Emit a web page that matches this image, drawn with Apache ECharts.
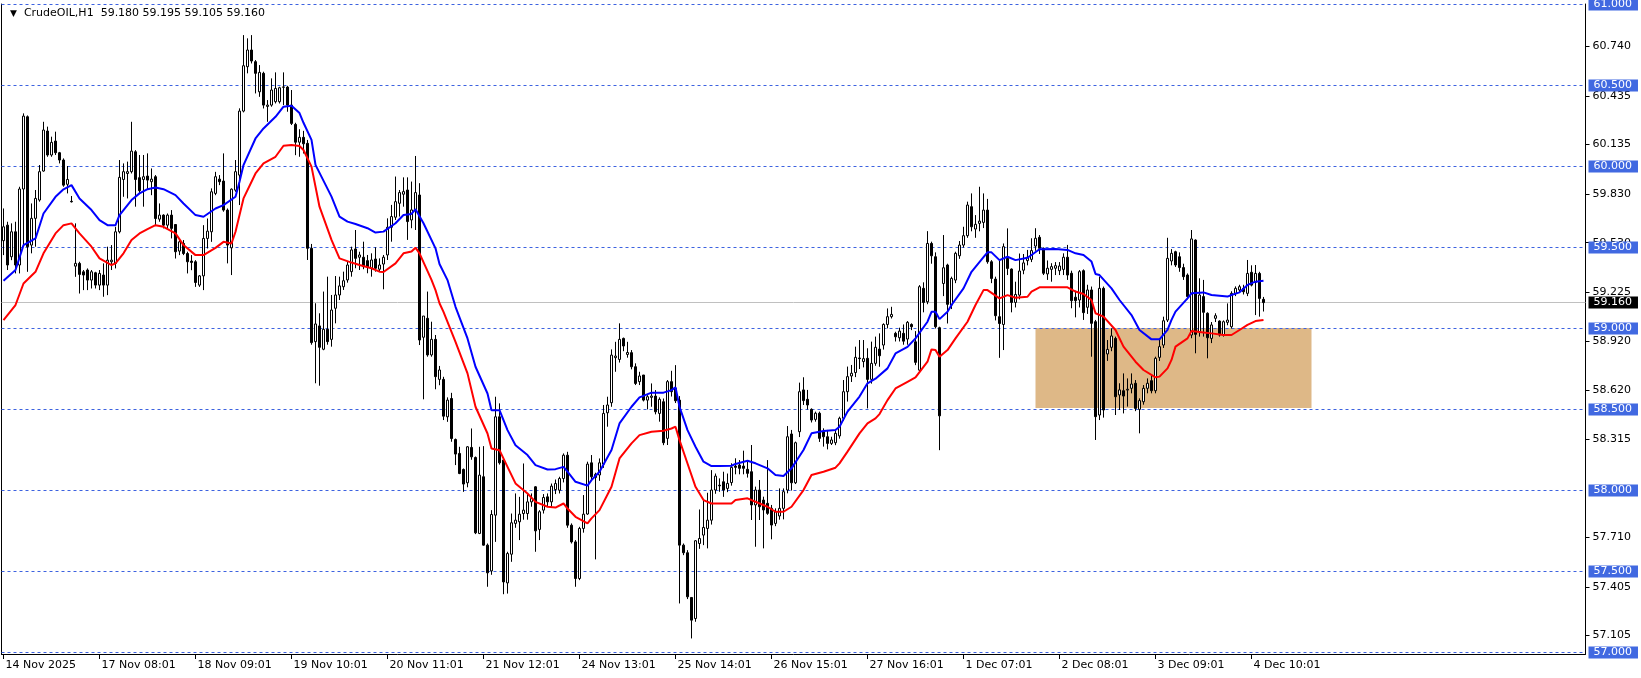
<!DOCTYPE html>
<html><head><meta charset="utf-8">
<script src="https://cdn.jsdelivr.net/npm/echarts@6/dist/echarts.min.js"></script>
<style>html,body{margin:0;padding:0;background:#fff}#c{width:1641px;height:678px}</style>
</head><body><div id="c"></div>
<script>
const symbolName = 'CrudeOIL,H1';
const lastOHLC = ['59.180', '59.195', '59.105', '59.160'];
// [open, high, low, close] per H1 bar
const candles = [
[59.542,59.741,59.453,59.628],[59.638,59.659,59.361,59.392],[59.443,59.649,59.422,59.597],[59.597,59.659,59.340,59.392],
[59.392,59.875,59.340,59.861],[59.861,60.328,59.505,60.311],[60.307,60.315,59.350,59.505],[59.515,59.772,59.464,59.680],
[59.680,59.855,59.505,59.803],[59.793,60.009,59.783,59.968],[59.972,60.276,59.968,60.225],[60.219,60.246,60.060,60.071],
[60.071,60.184,60.060,60.149],[60.157,60.215,60.071,60.085],[60.085,60.090,60.019,60.040],[60.040,60.050,59.875,59.885],
[59.890,60.003,59.834,59.920],[59.785,59.818,59.778,59.782],[59.385,59.649,59.319,59.402],[59.402,59.412,59.216,59.334],
[59.350,59.361,59.237,59.330],[59.361,59.371,59.237,59.299],[59.299,59.361,59.247,59.350],[59.344,59.350,59.247,59.268],
[59.268,59.361,59.237,59.340],[59.330,59.402,59.196,59.268],[59.268,59.505,59.206,59.422],[59.412,59.515,59.361,59.422],
[59.402,59.628,59.371,59.597],[59.597,60.040,59.587,59.933],[59.920,60.019,59.813,59.968],[59.957,60.030,59.803,59.968],
[59.968,60.276,59.957,60.095],[60.091,60.101,59.752,59.920],[59.931,60.071,59.834,59.851],[59.920,60.071,59.752,59.937],
[59.941,60.081,59.855,59.916],[59.906,59.988,59.823,59.922],[59.937,59.947,59.638,59.679],[59.675,59.772,59.659,59.700],
[59.700,59.705,59.618,59.638],[59.638,59.710,59.618,59.700],[59.700,59.731,59.556,59.618],[59.642,59.642,59.432,59.474],
[59.478,59.556,59.453,59.535],[59.525,59.546,59.453,59.463],[59.463,59.474,59.340,59.412],[59.416,59.453,59.360,59.408],
[59.412,59.422,59.257,59.284],[59.268,59.330,59.257,59.325],[59.325,59.638,59.237,59.556],[59.556,59.679,59.494,59.601],
[59.597,59.865,59.535,59.844],[59.834,59.967,59.823,59.937],[59.922,59.947,59.885,59.906],[59.910,60.081,59.721,59.731],
[59.731,59.741,59.402,59.515],[59.498,59.865,59.330,59.860],[59.854,60.040,59.844,59.968],[59.947,60.359,59.762,60.342],
[60.342,60.811,60.334,60.622],[60.616,60.791,60.575,60.719],[60.719,60.811,60.636,60.651],[60.647,60.657,60.451,60.575],
[60.461,60.626,60.430,60.581],[60.575,60.585,60.358,60.379],[60.371,60.410,60.276,60.379],[60.379,60.544,60.369,60.472],
[60.400,60.581,60.389,60.482],[60.400,60.492,60.389,60.486],[60.489,60.581,60.379,60.491],[60.490,60.498,60.338,60.379],
[60.379,60.472,60.256,60.266],[60.260,60.270,60.070,60.150],[60.150,60.230,60.060,60.180],[60.180,60.220,60.080,60.140],
[60.143,60.164,59.423,59.495],[59.495,59.522,58.900,58.913],[58.919,59.156,58.662,59.028],[59.016,59.094,58.647,58.884],
[58.872,59.228,58.866,58.995],[58.995,59.320,58.900,58.919],[58.933,59.207,58.888,59.114],[59.125,59.324,59.032,59.207],
[59.207,59.320,59.176,59.263],[59.258,59.351,59.238,59.295],[59.300,59.413,59.283,59.392],[59.351,59.505,59.320,59.485],
[59.491,59.608,59.372,59.433],[59.440,59.474,59.361,59.454],[59.440,59.536,59.366,59.382],[59.419,59.454,59.341,59.378],
[59.372,59.464,59.320,59.423],[59.429,59.501,59.351,59.372],[59.366,59.433,59.351,59.392],[59.398,59.454,59.242,59.440],
[59.454,59.680,59.423,59.625],[59.625,59.763,59.536,59.691],[59.687,59.938,59.670,59.783],[59.773,59.855,59.691,59.839],
[59.829,59.933,59.752,59.845],[59.855,59.933,59.547,59.660],[59.670,59.907,59.619,59.732],[59.732,60.065,59.608,59.839],
[59.824,59.897,58.898,58.929],[58.946,59.077,58.563,59.077],[59.063,59.228,58.826,58.837],[58.837,59.042,58.826,58.933],
[58.933,58.960,58.625,58.703],[58.686,58.769,58.650,58.744],[58.686,58.702,58.435,58.459],[58.455,58.575,58.424,58.558],
[58.568,58.603,58.301,58.321],[58.315,58.321,58.157,58.225],[58.229,58.270,58.101,58.105],[58.130,58.136,57.992,58.040],
[58.048,58.274,58.020,58.270],[58.266,58.383,58.190,58.208],[58.204,58.210,57.731,57.739],[57.735,58.270,57.731,58.095],
[58.085,58.274,57.660,57.663],[57.663,57.673,57.406,57.492],[57.504,57.879,57.480,57.852],[57.848,58.579,57.683,58.455],
[58.455,58.538,58.160,58.171],[58.188,58.198,57.360,57.436],[57.430,57.622,57.364,57.611],[57.607,57.858,57.560,57.801],
[57.797,57.982,57.770,57.817],[57.807,57.961,57.694,57.854],[57.858,58.167,57.820,57.879],[57.858,57.982,57.820,57.930],
[57.930,57.982,57.900,57.951],[58.023,58.027,57.622,57.751],[57.760,57.879,57.694,57.869],[57.879,57.978,57.858,57.957],
[57.961,57.982,57.900,57.930],[57.930,58.043,57.900,58.027],[58.006,58.068,57.978,58.043],[58.002,58.085,57.982,58.074],
[58.074,58.229,58.050,58.218],[58.218,58.239,57.770,57.786],[57.786,57.797,57.673,57.683],[57.683,57.694,57.406,57.457],
[57.457,57.776,57.447,57.766],[57.766,57.972,57.740,57.854],[57.855,58.178,57.850,58.163],[58.171,58.219,58.060,58.085],
[58.080,58.110,57.575,58.100],[58.096,58.198,58.060,58.171],[58.163,58.528,58.140,58.476],[58.480,58.579,58.394,58.528],
[58.542,58.871,58.517,58.836],[58.820,58.918,58.733,58.830],[58.809,59.032,58.790,58.933],[58.939,58.944,58.860,58.892],
[58.840,58.918,58.820,58.852],[58.851,58.867,58.748,58.764],[58.764,58.785,58.651,58.661],[58.672,58.733,58.651,58.707],
[58.713,58.713,58.550,58.558],[58.558,58.589,58.501,58.579],[58.575,58.661,58.517,58.583],[58.583,58.620,58.470,58.486],
[58.476,58.575,58.425,58.563],[58.548,58.568,58.280,58.295],[58.322,58.682,58.281,58.672],[58.672,58.739,58.580,58.610],
[58.630,58.774,58.540,58.554],[58.558,58.583,57.303,57.663],[57.663,57.673,57.601,57.616],[57.616,57.632,57.330,57.344],
[57.340,57.340,57.087,57.200],[57.210,57.694,57.190,57.690],[57.673,57.883,57.640,57.704],[57.725,57.941,57.663,57.772],
[57.766,57.986,57.643,57.817],[57.817,58.126,57.790,58.003],[58.003,58.105,57.980,58.089],[58.033,58.075,57.992,58.029],
[58.054,58.116,57.961,58.003],[58.013,58.105,57.990,58.044],[58.049,58.168,58.030,58.143],[58.151,58.199,58.100,58.143],
[58.157,58.188,58.100,58.137],[58.151,58.246,58.100,58.137],[58.131,58.188,58.080,58.106],[58.116,58.281,57.818,57.911],
[57.911,58.024,57.653,58.003],[58.003,58.065,57.818,57.900],[57.941,57.962,57.643,57.880],[57.921,58.188,57.850,57.859],
[57.890,57.911,57.699,57.787],[57.797,57.890,57.780,57.869],[57.843,58.013,57.820,57.890],[57.890,58.013,57.822,57.993],
[58.003,58.398,57.983,58.332],[58.349,58.374,58.000,58.048],[58.048,58.302,58.040,58.295],[58.363,58.666,58.330,58.610],
[58.621,58.699,58.528,58.555],[58.563,58.621,58.500,58.528],[58.501,58.507,58.420,58.435],[58.439,58.487,58.425,58.477],
[58.477,58.487,58.300,58.322],[58.363,58.384,58.271,58.332],[58.332,58.374,58.254,58.291],[58.291,58.332,58.281,58.312],
[58.295,58.374,58.280,58.353],[58.337,58.456,58.320,58.446],[58.446,58.682,58.430,58.610],[58.610,58.765,58.549,58.703],
[58.707,58.775,58.670,58.724],[58.728,58.888,58.700,58.822],[58.818,58.929,58.750,58.814],[58.796,58.929,58.760,58.814],
[58.816,58.878,58.507,58.686],[58.686,58.919,58.660,58.785],[58.785,58.950,58.770,58.884],[58.873,58.970,58.764,58.832],
[58.898,59.032,58.870,59.025],[59.025,59.124,59.001,59.073],[59.073,59.134,59.062,59.087],[58.970,58.980,58.920,58.949],
[58.943,59.005,58.920,58.984],[58.970,59.025,58.900,58.922],[58.935,59.046,58.900,59.038],[59.025,59.032,58.990,59.011],
[58.918,58.984,58.774,58.791],[58.743,59.268,58.730,59.258],[59.248,59.285,59.100,59.161],[59.165,59.601,59.150,59.525],
[59.525,59.536,59.400,59.449],[59.443,59.470,59.000,59.011],[59.005,59.011,58.249,58.461],[59.278,59.577,59.200,59.375],
[59.392,59.400,59.031,59.149],[59.145,59.320,59.120,59.309],[59.299,59.474,59.280,59.464],[59.449,59.540,59.430,59.515],
[59.515,59.628,59.500,59.573],[59.573,59.783,59.560,59.762],[59.752,59.834,59.600,59.628],[59.614,59.700,59.560,59.643],
[59.649,59.875,59.600,59.663],[59.655,59.834,59.620,59.731],[59.731,59.800,59.400,59.412],[59.412,59.422,59.280,59.309],
[59.305,59.320,59.050,59.079],[59.073,59.420,58.819,59.031],[59.025,59.525,58.867,59.505],[59.433,59.618,59.330,59.371],
[59.367,59.371,59.100,59.161],[59.161,59.289,59.130,59.210],[59.206,59.463,59.180,59.355],[59.360,59.460,59.335,59.405],
[59.419,59.485,59.390,59.440],[59.427,59.557,59.410,59.481],[59.509,59.619,59.480,59.557],[59.563,59.577,59.460,59.495],
[59.495,59.500,59.330,59.341],[59.337,59.420,59.300,59.372],[59.365,59.403,59.289,59.382],[59.372,59.410,59.330,59.388],
[59.357,59.410,59.330,59.386],[59.365,59.464,59.330,59.440],[59.440,59.516,59.300,59.330],[59.341,59.357,59.125,59.172],
[59.193,59.234,59.069,59.172],[59.176,59.361,59.130,59.351],[59.357,59.365,59.053,59.098],[59.131,59.270,59.090,59.238],
[59.238,59.259,58.826,59.032],[59.042,59.053,58.312,58.456],[58.466,59.320,58.435,59.248],[59.248,59.259,58.450,58.497],
[58.843,58.929,58.800,58.871],[58.884,59.001,58.860,58.954],[58.939,58.950,58.466,58.579],[58.590,58.662,58.497,58.621],
[58.616,58.723,58.476,58.583],[58.620,58.692,58.518,58.625],[58.631,58.723,58.600,58.657],[58.662,58.682,58.490,58.507],
[58.501,58.569,58.353,58.555],[58.548,58.651,58.530,58.631],[58.631,58.692,58.600,58.662],[58.678,58.713,58.600,58.616],
[58.616,58.826,58.600,58.816],[58.822,58.939,58.800,58.888],[58.898,59.073,58.880,59.048],[59.052,59.560,59.040,59.433],
[59.417,59.490,59.390,59.464],[59.474,59.480,59.380,59.392],[59.443,59.470,59.350,59.376],[59.376,59.400,59.300,59.320],
[59.330,59.340,59.180,59.197],[58.960,59.608,58.940,59.553],[59.546,59.550,58.847,58.964],[58.980,59.310,58.950,59.207],
[59.197,59.300,58.950,59.100],[59.094,59.100,58.816,58.943],[58.939,59.040,58.910,59.022],[59.063,59.094,59.040,59.079],
[59.046,59.050,58.950,58.960],[58.960,59.050,58.950,59.042],[59.038,59.155,59.020,59.052],[59.011,59.230,59.000,59.217],
[59.217,59.260,59.200,59.248],[59.238,59.270,59.220,59.258],[59.248,59.270,59.210,59.227],[59.217,59.423,59.200,59.340],
[59.347,59.390,59.260,59.268],[59.285,59.392,59.083,59.340],[59.340,59.350,59.073,59.186],[59.180,59.195,59.105,59.160]
];
// blue average line, [bar index, value]
const maBlue = [
[0,59.295],[3,59.361],[5,59.515],[8,59.556],[10,59.71],[13,59.813],[15,59.859],[17,59.885],[19,59.803],[22,59.731],
[24,59.669],[26,59.638],[28,59.638],[29,59.70],[32,59.793],[34,59.834],[36,59.86],[38,59.871],[40,59.86],[43,59.823],
[45,59.772],[48,59.70],[50,59.69],[53,59.741],[55,59.762],[58,59.813],[59,59.906],[60,60.009],[63,60.173],[65,60.235],
[68,60.307],[70,60.369],[72,60.375],[74,60.33],[75,60.27],[77,60.164],[78,60.01],[82,59.814],[84,59.691],[86,59.66],
[88,59.645],[91,59.619],[93,59.592],[95,59.598],[98,59.65],[100,59.701],[102,59.707],[103,59.736],[105,59.65],[108,59.495],
[109,59.398],[111,59.299],[113,59.134],[116,58.939],[118,58.764],[121,58.599],[122,58.496],[124,58.496],[126,58.373],[128,58.28],
[131,58.219],[133,58.157],[136,58.13],[138,58.132],[140,58.146],[141,58.116],[143,58.054],[146,58.03],[147,58.064],[149,58.116],
[152,58.25],[154,58.414],[157,58.517],[159,58.575],[162,58.604],[165,58.604],[167,58.62],[168,58.637],[169,58.517],[171,58.373],
[173,58.27],[175,58.178],[177,58.151],[179,58.151],[182,58.153],[183,58.164],[186,58.184],[188,58.168],[191,58.137],[193,58.096],
[195,58.09],[197,58.137],[200,58.25],[202,58.353],[205,58.367],[208,58.374],[209,58.394],[211,58.487],[214,58.58],[216,58.662],
[218,58.69],[221,58.754],[223,58.846],[226,58.887],[228,58.939],[231,59.042],[232,59.103],[233,59.103],[234,59.058],[236,59.103],
[237,59.145],[240,59.248],[242,59.35],[245,59.44],[246,59.47],[247,59.47],[249,59.422],[251,59.443],[253,59.422],[256,59.437],
[257,59.454],[259,59.489],[263,59.491],[266,59.485],[268,59.464],[270,59.454],[272,59.413],[273,59.337],[274,59.33],[277,59.248],
[279,59.176],[282,59.083],[284,58.991],[287,58.933],[289,58.933],[291,58.991],[292,59.053],[293,59.104],[296,59.186],[297,59.217],
[300,59.223],[302,59.207],[306,59.197],[307,59.207],[309,59.223],[311,59.269],[313,59.289],[315,59.295]
];
// red average line, [bar index, value]
const maRed = [
[0,59.052],[3,59.145],[5,59.278],[8,59.35],[10,59.464],[13,59.587],[15,59.638],[17,59.649],[19,59.587],[22,59.505],
[24,59.433],[27,59.392],[28,59.402],[30,59.464],[32,59.546],[34,59.587],[36,59.613],[38,59.638],[40,59.628],[43,59.587],
[45,59.515],[48,59.453],[50,59.453],[53,59.498],[55,59.535],[57,59.525],[58,59.597],[60,59.803],[63,59.957],[65,60.019],
[68,60.06],[70,60.128],[72,60.133],[74,60.127],[75,60.102],[77,59.999],[79,59.752],[82,59.547],[84,59.433],[87,59.407],
[89,59.392],[92,59.372],[94,59.351],[95,59.349],[98,59.402],[100,59.464],[102,59.475],[103,59.499],[104,59.464],[107,59.30],
[108,59.237],[109,59.156],[110,59.103],[113,58.918],[116,58.723],[118,58.517],[121,58.352],[122,58.26],[124,58.249],[126,58.146],
[128,58.044],[131,57.982],[133,57.93],[136,57.90],[138,57.895],[140,57.92],[141,57.889],[143,57.838],[146,57.797],[147,57.828],
[149,57.879],[152,58.023],[154,58.198],[157,58.291],[159,58.342],[162,58.363],[165,58.369],[167,58.383],[168,58.394],[169,58.311],
[171,58.167],[173,58.023],[175,57.941],[177,57.92],[179,57.92],[182,57.92],[183,57.941],[186,57.952],[188,57.931],[191,57.90],
[193,57.869],[195,57.869],[197,57.90],[200,58.003],[202,58.096],[205,58.116],[208,58.141],[209,58.168],[211,58.24],[214,58.353],
[216,58.415],[218,58.445],[219,58.472],[221,58.558],[223,58.63],[226,58.671],[228,58.698],[231,58.795],[232,58.871],[233,58.867],
[234,58.826],[236,58.867],[238,58.939],[241,59.042],[243,59.145],[245,59.237],[246,59.237],[249,59.186],[251,59.206],[253,59.19],
[256,59.196],[257,59.228],[259,59.254],[266,59.254],[268,59.228],[270,59.213],[272,59.176],[273,59.094],[275,59.073],[278,58.991],
[280,58.888],[283,58.795],[285,58.744],[288,58.699],[289,58.703],[291,58.754],[292,58.806],[293,58.888],[296,58.939],[297,58.985],
[300,58.976],[302,58.97],[305,58.96],[307,58.96],[309,58.991],[311,59.022],[313,59.046],[315,59.053]
];
const slotCount = 396;
const xLabelIdx = [0,24,48,72,96,120,144,168,192,216,240,264,288,312];
const xLabelText = ['14 Nov 2025','17 Nov 08:01','18 Nov 09:01','19 Nov 10:01','20 Nov 11:01','21 Nov 12:01','24 Nov 13:01',
  '25 Nov 14:01','26 Nov 15:01','27 Nov 16:01','1 Dec 07:01','2 Dec 08:01','3 Dec 09:01','4 Dec 10:01'];
const yTickLabels = [60.740,60.435,60.135,59.830,59.530,59.225,58.920,58.620,58.315,57.710,57.405,57.105];
const levelLines = [61.0,60.5,60.0,59.5,59.0,58.5,58.0,57.5,57.0];
const currentPrice = 59.160;
const zoneBars = [258, 327];
const zonePrices = [59.003, 58.51];

const FONT = 'DejaVu Sans';
const categories = Array.from({length: slotCount}, (_, i) => String(i));
const labelMap = {};
xLabelIdx.forEach((k, j) => { labelMap[k] = xLabelText[j]; });
const showIdx = (i) => labelMap[i] !== undefined;

const chart = echarts.init(document.getElementById('c'), null, {renderer: 'canvas'});
const levelData = levelLines.map(v => ({yAxis: v}));
levelData.push({
  yAxis: currentPrice,
  lineStyle: {type: 'solid', color: '#c0c0c0', width: 1},
  label: {backgroundColor: '#000000', color: '#ffffff'}
});

chart.setOption({
  animation: false,
  backgroundColor: '#ffffff',
  title: {
    text: '{t|▼}  ' + symbolName + '  ' + lastOHLC.join(' '),
    left: 5, top: 3,
    textStyle: {fontFamily: FONT, fontSize: 11, fontWeight: 'normal', color: '#000',
      rich: {t: {fontSize: 9, fontFamily: FONT, color: '#000'}}}
  },
  grid: {left: 1.5, right: 55.5, top: 4, bottom: 24, containLabel: false},
  xAxis: {
    type: 'category', data: categories, boundaryGap: true,
    axisLine: {show: true, lineStyle: {color: '#000', width: 1}},
    axisTick: {show: true, interval: showIdx, alignWithLabel: true, length: 5, lineStyle: {color: '#000'}},
    axisLabel: {interval: showIdx, formatter: (v, i) => labelMap[i] || '', align: 'left', margin: 6,
      color: '#000', fontSize: 11, fontFamily: FONT, padding: [0, 0, 0, 2]},
    splitLine: {show: false}
  },
  yAxis: [{
    type: 'value', position: 'right', min: 56.991, max: 61.003, scale: true,
    axisLine: {show: true, lineStyle: {color: '#000', width: 1}},
    axisTick: {show: true, customValues: yTickLabels, length: 4, lineStyle: {color: '#000'}},
    axisLabel: {customValues: yTickLabels, formatter: v => v.toFixed(3), color: '#000',
      fontSize: 11, fontFamily: FONT, margin: 7},
    splitLine: {show: false}
  }, {
    type: 'value', position: 'left', min: 56.991, max: 61.003,
    axisLine: {show: true, onZero: false, lineStyle: {color: '#000', width: 1}},
    axisTick: {show: false}, axisLabel: {show: false}, splitLine: {show: false}
  }],
  series: [
    {
      type: 'line', name: 'zone', data: [], silent: true, z: 1,
      markArea: {
        silent: true, z: 1,
        itemStyle: {color: '#DEB887', opacity: 1},
        data: [[{xAxis: String(zoneBars[0]), yAxis: zonePrices[0]}, {xAxis: String(zoneBars[1]), yAxis: zonePrices[1]}]]
      },
      markLine: {
        silent: true, symbol: 'none', z: 2,
        lineStyle: {type: [3, 3], color: '#3D62E0', width: 1},
        label: {show: true, position: 'end', distance: 3, formatter: p => p.value.toFixed(3),
          color: '#ffffff', backgroundColor: '#4169E1', padding: [1, 6, 0, 5],
          fontFamily: FONT, fontSize: 11},
        data: levelData
      }
    },
    {
      type: 'candlestick', name: 'price', z: 3, barWidth: 2, large: false,
      data: candles.map(c => [c[0], c[3], c[2], c[1]]),
      itemStyle: {color: '#ffffff', color0: '#000000', borderColor: '#000000', borderColor0: '#000000',
        borderColorDoji: '#000000', borderWidth: 1}
    },
    {
      type: 'line', name: 'blue', data: maBlue, z: 4, symbol: 'none', smooth: false,
      lineStyle: {color: '#0000FF', width: 2}, itemStyle: {color: '#0000FF'}
    },
    {
      type: 'line', name: 'red', data: maRed, z: 4, symbol: 'none', smooth: false,
      lineStyle: {color: '#FF0000', width: 2}, itemStyle: {color: '#FF0000'}
    }
  ]
});
</script></body></html>
